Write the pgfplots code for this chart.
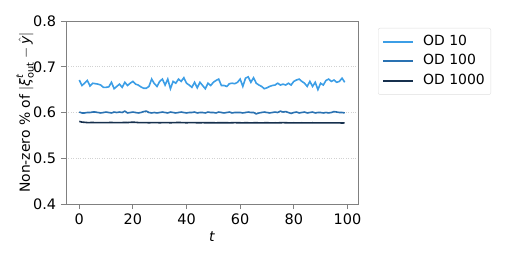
\documentclass[border=0pt]{standalone}
\usepackage{amsmath}
\usepackage{fontspec}
\setmainfont{DejaVu Sans}
\usepackage{pgfplots}
\pgfplotsset{compat=1.18}
\definecolor{odA}{HTML}{3C9EE6}
\definecolor{odB}{HTML}{2A72B2}
\definecolor{odC}{HTML}{16304D}
\definecolor{frame}{HTML}{808080}
\begin{document}
\fontsize{14}{16}\selectfont
\begin{tikzpicture}
\useasboundingbox (-66bp,-53bp) rectangle (448bp,204bp);
\begin{axis}[
  at={(0,0)}, anchor=south west,
  scale only axis, width=292bp, height=183bp,
  xmin=-4.95, xmax=103.95, ymin=0.4, ymax=0.8,
  xtick={0,20,40,60,80,100},
  ytick={0.4,0.5,0.6,0.7,0.8},
  /pgf/number format/assume math mode=true,
  yticklabel style={/pgf/number format/.cd,fixed,fixed zerofill,precision=1},
  tick label style={font=\fontsize{14.5}{16}\selectfont},
  label style={font=\fontsize{14}{16}\selectfont},
  axis line style={frame, line width=0.9bp},
  tick style={frame, line width=0.9bp},
  tick align=outside, major tick length=5bp,
  xtick pos=bottom, ytick pos=left,
  ymajorgrids, grid style={dotted, gray!35, line width=0.6bp},
  xlabel={\textit{t}},
  ylabel={Non-zero \% of $|\textit{ξ}^{\textit{t}}_{\text{out}}-\hat{\textit{y}}|$},
  xlabel style={yshift=3bp},
  ylabel style={yshift=-10bp},
  legend style={at={(1.0685,0.962)}, anchor=north west, draw=gray!25, rounded corners=2bp,
    font=\fontsize{14}{16}\selectfont, inner sep=4bp, column sep=7bp,
    nodes={text height=11bp, text depth=4.5bp}},
  legend cell align=left,
  legend image code/.code={\draw[#1, line width=2bp] (0bp,0bp) -- (30bp,0bp);},
  every axis plot/.append style={line width=1.6bp},
]
\addplot[odA] coordinates {
(0,0.671)(1,0.659)(2,0.664)(3,0.670)(4,0.658)(5,0.664)(6,0.663)(7,0.662)(8,0.660)(9,0.655)
(10,0.655)(11,0.656)(12,0.666)(13,0.652)(14,0.657)(15,0.662)(16,0.655)(17,0.666)(18,0.659)(19,0.664)
(20,0.668)(21,0.662)(22,0.660)(23,0.656)(24,0.653)(25,0.653)(26,0.657)(27,0.673)(28,0.663)(29,0.657)
(30,0.668)(31,0.673)(32,0.660)(33,0.673)(34,0.652)(35,0.668)(36,0.664)(37,0.673)(38,0.668)(39,0.676)
(40,0.664)(41,0.660)(42,0.655)(43,0.666)(44,0.654)(45,0.666)(46,0.659)(47,0.652)(48,0.664)(49,0.659)
(50,0.666)(51,0.670)(52,0.673)(53,0.659)(54,0.659)(55,0.657)(56,0.663)(57,0.664)(58,0.663)(59,0.666)
(60,0.673)(61,0.657)(62,0.675)(63,0.678)(64,0.666)(65,0.676)(66,0.664)(67,0.660)(68,0.657)(69,0.652)
(70,0.654)(71,0.657)(72,0.659)(73,0.660)(74,0.664)(75,0.660)(76,0.662)(77,0.660)(78,0.664)(79,0.660)
(80,0.668)(81,0.671)(82,0.673)(83,0.668)(84,0.664)(85,0.657)(86,0.668)(87,0.657)(88,0.666)(89,0.650)
(90,0.664)(91,0.660)(92,0.670)(93,0.673)(94,0.668)(95,0.671)(96,0.666)(97,0.668)(98,0.675)(99,0.666)
};
\addlegendentry{OD 10}
\addplot[odB] coordinates {
(0,0.601)(1,0.599)(2,0.599)(3,0.600)(4,0.600)(5,0.601)(6,0.601)(7,0.600)(8,0.599)(9,0.600)
(10,0.601)(11,0.600)(12,0.599)(13,0.601)(14,0.600)(15,0.601)(16,0.600)(17,0.603)(18,0.599)(19,0.600)
(20,0.601)(21,0.600)(22,0.599)(23,0.600)(24,0.602)(25,0.603)(26,0.600)(27,0.599)(28,0.600)(29,0.599)
(30,0.600)(31,0.601)(32,0.600)(33,0.599)(34,0.601)(35,0.600)(36,0.599)(37,0.600)(38,0.601)(39,0.600)
(40,0.599)(41,0.600)(42,0.600)(43,0.601)(44,0.599)(45,0.600)(46,0.600)(47,0.599)(48,0.601)(49,0.600)
(50,0.600)(51,0.599)(52,0.601)(53,0.600)(54,0.599)(55,0.600)(56,0.601)(57,0.599)(58,0.600)(59,0.600)
(60,0.600)(61,0.599)(62,0.600)(63,0.601)(64,0.600)(65,0.600)(66,0.597)(67,0.599)(68,0.600)(69,0.601)
(70,0.600)(71,0.599)(72,0.600)(73,0.601)(74,0.600)(75,0.603)(76,0.601)(77,0.602)(78,0.600)(79,0.598)
(80,0.600)(81,0.601)(82,0.599)(83,0.600)(84,0.601)(85,0.599)(86,0.600)(87,0.601)(88,0.599)(89,0.600)
(90,0.600)(91,0.599)(92,0.600)(93,0.599)(94,0.600)(95,0.602)(96,0.601)(97,0.600)(98,0.600)(99,0.599)
};
\addlegendentry{OD 100}
\addplot[odC] coordinates {
(0,0.5805)(1,0.5790)(2,0.5785)(3,0.5780)(4,0.5780)(5,0.5782)(6,0.5778)(7,0.5780)(8,0.5778)(9,0.5780)
(10,0.5778)(11,0.5780)(12,0.5782)(13,0.5778)(14,0.5780)(15,0.5778)(16,0.5780)(17,0.5782)(18,0.5780)(19,0.5785)
(20,0.5788)(21,0.5785)(22,0.5780)(23,0.5778)(24,0.5780)(25,0.5778)(26,0.5776)(27,0.5778)(28,0.5780)(29,0.5778)
(30,0.5776)(31,0.5778)(32,0.5780)(33,0.5778)(34,0.5776)(35,0.5778)(36,0.5780)(37,0.5782)(38,0.5780)(39,0.5778)
(40,0.5776)(41,0.5778)(42,0.5780)(43,0.5778)(44,0.5776)(45,0.5775)(46,0.5778)(47,0.5776)(48,0.5775)(49,0.5777)
(50,0.5776)(51,0.5774)(52,0.5776)(53,0.5775)(54,0.5777)(55,0.5776)(56,0.5774)(57,0.5776)(58,0.5778)(59,0.5776)
(60,0.5775)(61,0.5774)(62,0.5776)(63,0.5775)(64,0.5773)(65,0.5775)(66,0.5776)(67,0.5774)(68,0.5773)(69,0.5775)
(70,0.5776)(71,0.5774)(72,0.5773)(73,0.5775)(74,0.5774)(75,0.5776)(76,0.5778)(77,0.5776)(78,0.5774)(79,0.5773)
(80,0.5775)(81,0.5774)(82,0.5773)(83,0.5775)(84,0.5774)(85,0.5772)(86,0.5774)(87,0.5775)(88,0.5773)(89,0.5772)
(90,0.5774)(91,0.5773)(92,0.5772)(93,0.5774)(94,0.5773)(95,0.5772)(96,0.5773)(97,0.5772)(98,0.5771)(99,0.5772)
};
\addlegendentry{OD 1000}
\end{axis}
\end{tikzpicture}
\end{document}
